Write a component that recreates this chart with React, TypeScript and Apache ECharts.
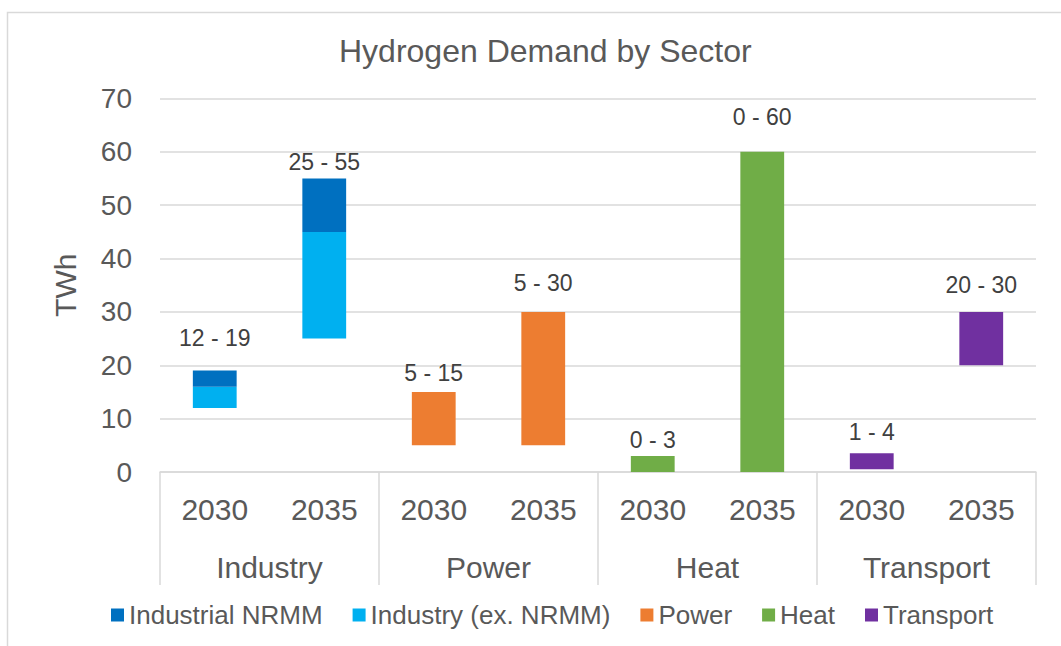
import React, { useEffect, useRef } from "react";
import * as echarts from "echarts";

const years = ["2030", "2035", "2030", "2035", "2030", "2035", "2030", "2035"];
const groups = ["Industry", "Power", "Heat", "Transport"];
const rangeLow = [12, 25, 5, 5, 0, 0, 0.5, 20];
const industryExNrmm = [4, 20, null, null, null, null, null, null];
const industrialNrmm = [3, 10, null, null, null, null, null, null];
const power = [null, null, 10, 25, null, null, null, null];
const heat = [null, null, null, null, 3, 60, null, null];
const transport = [null, null, null, null, null, null, 3, 10];
const rangeLabels = ["12 - 19", "25 - 55", "5 - 15", "5 - 30", "0 - 3", "0 - 60", "1 - 4", "20 - 30"];
const yTicks = [0, 10, 20, 30, 40, 50, 60, 70];

// styling: label distance (px) above each range bar
const labelDistance = [21, 5, 7, 17, 4, 23, 10, 15];

const TEXT = "#595959";
const GRID = "#d9d9d9";
const FONT = "'Liberation Sans', Arial, sans-serif";

export default function App() {
  const ref = useRef<HTMLDivElement>(null);
  useEffect(() => {
    if (!ref.current) return;
    const chart = echarts.init(ref.current, null, { renderer: "svg" });

    const stacked = [
      { name: "Industry (ex. NRMM)", values: industryExNrmm, color: "#00B0F0" },
      { name: "Industrial NRMM", values: industrialNrmm, color: "#0070C0" },
      { name: "Power", values: power, color: "#ED7D31" },
      { name: "Heat", values: heat, color: "#70AD47" },
      { name: "Transport", values: transport, color: "#7030A0" },
    ];
    const topIdx: number[] = years.map((_, i) => {
      let t = -1;
      stacked.forEach((s, k) => {
        if (s.values[i] != null) t = k;
      });
      return t;
    });

    const series: any[] = [
      {
        name: "base",
        type: "bar",
        stack: "total",
        barWidth: "40%",
        data: rangeLow,
        itemStyle: { color: "transparent" },
        emphasis: { disabled: true },
        silent: true,
      },
      ...stacked.map((s, k) => ({
        name: s.name,
        type: "bar",
        stack: "total",
        barWidth: "40%",
        itemStyle: { color: s.color },
        emphasis: { disabled: true },
        data: s.values.map((v, i) =>
          v == null
            ? "-"
            : topIdx[i] === k
            ? {
                value: v,
                label: {
                  show: true,
                  position: "top",
                  distance: labelDistance[i],
                  formatter: rangeLabels[i],
                  fontSize: 23,
                  color: "#404040",
                  fontFamily: FONT,
                },
              }
            : v
        ),
      })),
    ];

    chart.setOption({
      animation: false,
      textStyle: { fontFamily: FONT },
      title: {
        text: "Hydrogen Demand by Sector",
        left: 334,
        top: 30,
        textStyle: { fontSize: 32, fontWeight: "normal", color: TEXT, fontFamily: FONT },
      },
      graphic: [
        {
          type: "rect",
          shape: { x: 7.5, y: 12.5, width: 1100, height: 700 },
          style: { fill: "none", stroke: GRID, lineWidth: 1.5 },
          silent: true,
        },
      ],
      legend: {
        data: ["Industrial NRMM", "Industry (ex. NRMM)", "Power", "Heat", "Transport"],
        left: 106,
        top: 597,
        icon: "rect",
        itemWidth: 13,
        itemHeight: 13,
        itemGap: 30,
        textStyle: { fontSize: 26, color: TEXT, fontFamily: FONT },
      },
      grid: { left: 160, right: 25, top: 98.5, bottom: 174, containLabel: false },
      xAxis: [
        {
          type: "category",
          data: years,
          position: "bottom",
          axisLine: { show: true, lineStyle: { color: GRID, width: 1.5 } },
          axisTick: { show: false },
          axisLabel: { margin: 22, fontSize: 30, color: TEXT, interval: 0, fontFamily: FONT },
          splitLine: { show: false },
        },
        {
          type: "category",
          data: groups,
          position: "bottom",
          axisLine: { show: false },
          axisTick: { show: true, length: 113, interval: 0, lineStyle: { color: GRID, width: 1.5 } },
          axisLabel: { margin: 80, fontSize: 30, color: TEXT, interval: 0, fontFamily: FONT },
          splitLine: { show: false },
        },
      ],
      yAxis: {
        type: "value",
        min: yTicks[0],
        max: yTicks[yTicks.length - 1],
        interval: 10,
        name: "TWh",
        nameLocation: "middle",
        nameRotate: 90,
        nameGap: 80,
        nameTextStyle: { fontSize: 30, color: TEXT, fontFamily: FONT },
        axisLine: { show: false },
        axisTick: { show: false },
        axisLabel: { margin: 28, fontSize: 28, color: TEXT, fontFamily: FONT },
        splitLine: { show: true, lineStyle: { color: GRID, width: 1.5 } },
      },
      series,
    });
    return () => chart.dispose();
  }, []);

  return (
    <div
      ref={ref}
      style={{ position: "absolute", left: 0, top: 0, width: 1061, height: 646, background: "#fff" }}
    />
  );
}
